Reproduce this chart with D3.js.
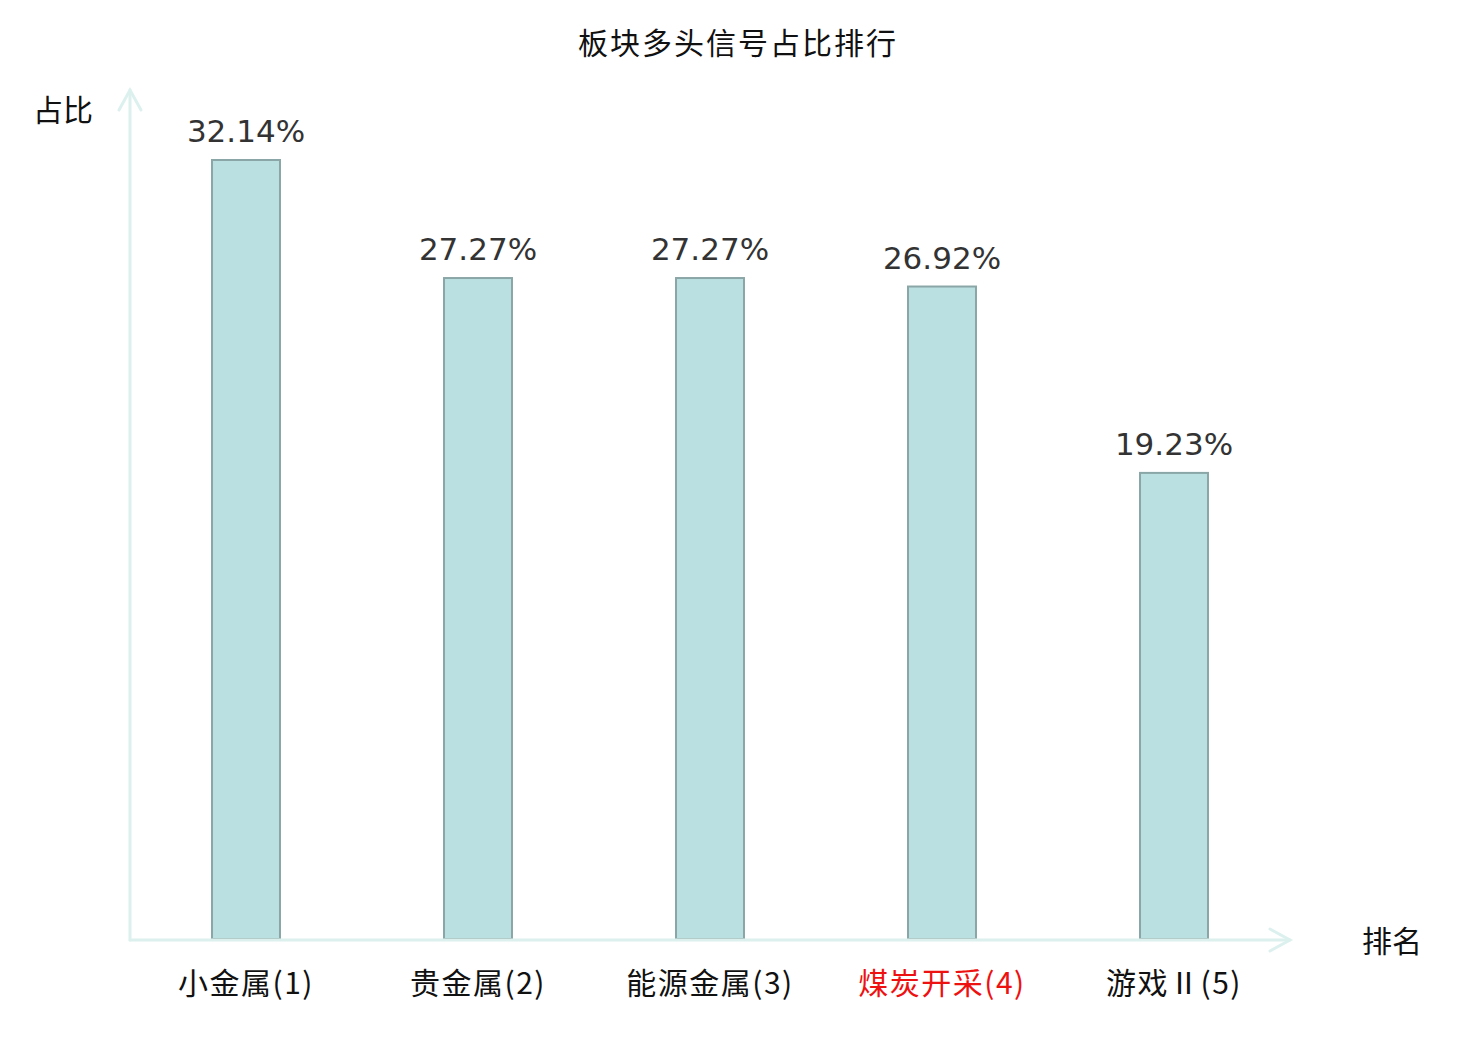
<!DOCTYPE html>
<html>
<head>
<meta charset="utf-8">
<script src="https://cdn.jsdelivr.net/npm/d3@7"></script>
<style>
  body { margin: 0; background: #fff; }
  #chart svg { display: block; }
</style>
</head>
<body>
<div id="chart"></div>
<script>
// chart data
var categories = ["小金属(1)", "贵金属(2)", "能源金属(3)", "煤炭开采(4)", "游戏Ⅱ(5)"];
var shares = [32.14, 27.27, 27.27, 26.92, 19.23];
var highlightIndex = 3;

function init() {
    var w = 1480;
    var h = 1040;
    var origin = { x: 130, y: 939 };
    var axisEnd = { x: 1290, y: 90 };

    var axisColor = "#dcf1ee";
    var cjk = "'Noto Sans CJK SC', 'Noto Sans', sans-serif";

    var svg = d3.select("#chart").append("svg")
        .attr("width", w)
        .attr("height", h);

    var xScale = d3.scaleBand()
        .domain(categories)
        .range([origin.x, axisEnd.x])
        .padding(0);
    var barW = xScale.bandwidth() * 0.293;

    var yScale = d3.scaleLinear()
        .domain([0, 36])
        .range([origin.y, origin.y - 36 * 779 / 32.14]);

    //Title
    svg.append("text")
        .attr("x", 738)
        .attr("y", 54)
        .attr("text-anchor", "middle")
        .style("font-family", cjk)
        .style("font-size", "30px")
        .style("letter-spacing", "2px")
        .attr("fill", "#111")
        .text("板块多头信号占比排行");

    //Bars
    var data = categories.map((c, i) => ({ cat: c, val: shares[i], i: i }));
    svg.selectAll("rect.bar")
        .data(data)
        .enter()
        .append("rect")
        .attr("class", "bar")
        .attr("x", d => xScale(d.cat) + xScale.bandwidth() / 2 - barW / 2)
        .attr("y", d => yScale(d.val))
        .attr("width", barW)
        .attr("height", d => yScale(0) - yScale(d.val))
        .attr("fill", "#bbe0e2")
        .attr("stroke", "#8ba6a7")
        .attr("stroke-width", 2);

    //Value labels
    svg.selectAll("text.value")
        .data(data)
        .enter()
        .append("text")
        .attr("class", "value")
        .attr("x", d => xScale(d.cat) + xScale.bandwidth() / 2)
        .attr("y", d => yScale(d.val) - 18)
        .attr("text-anchor", "middle")
        .style("font-family", "'DejaVu Sans', sans-serif")
        .style("font-size", "31px")
        .attr("fill", "#333")
        .text(d => d.val.toFixed(2) + "%");

    //Axes
    var axes = svg.append("g")
        .attr("fill", "none")
        .attr("stroke", axisColor)
        .attr("stroke-width", 3)
        .attr("stroke-linecap", "round");
    axes.append("path")
        .attr("d", `M${origin.x},${origin.y + 1}H${axisEnd.x}`);
    axes.append("path")
        .attr("d", `M${origin.x},${origin.y + 1}V${axisEnd.y}`);
    axes.append("path")
        .attr("d", `M${axisEnd.x - 20},${origin.y - 10}L${axisEnd.x},${origin.y + 1}L${axisEnd.x - 20},${origin.y + 12}`);
    axes.append("path")
        .attr("d", `M${origin.x - 11},${axisEnd.y + 20}L${origin.x},${axisEnd.y}L${origin.x + 11},${axisEnd.y + 20}`);

    //Category labels
    svg.selectAll("text.cat")
        .data(data)
        .enter()
        .append("text")
        .attr("class", "cat")
        .attr("x", d => xScale(d.cat) + xScale.bandwidth() / 2)
        .attr("y", 994)
        .attr("text-anchor", "middle")
        .style("font-family", cjk)
        .style("font-size", "30px")
        .style("letter-spacing", "1.5px")
        .attr("fill", d => d.i === highlightIndex ? "#ee1111" : "#111")
        .text(d => d.cat);

    //Axis names
    svg.append("text")
        .attr("x", 63)
        .attr("y", 121)
        .attr("text-anchor", "middle")
        .style("font-family", cjk)
        .style("font-size", "30px")
        .attr("fill", "#111")
        .text("占比");
    svg.append("text")
        .attr("x", 1392)
        .attr("y", 952)
        .attr("text-anchor", "middle")
        .style("font-family", cjk)
        .style("font-size", "30px")
        .attr("fill", "#111")
        .text("排名");
}

window.onload = init;
</script>
</body>
</html>
